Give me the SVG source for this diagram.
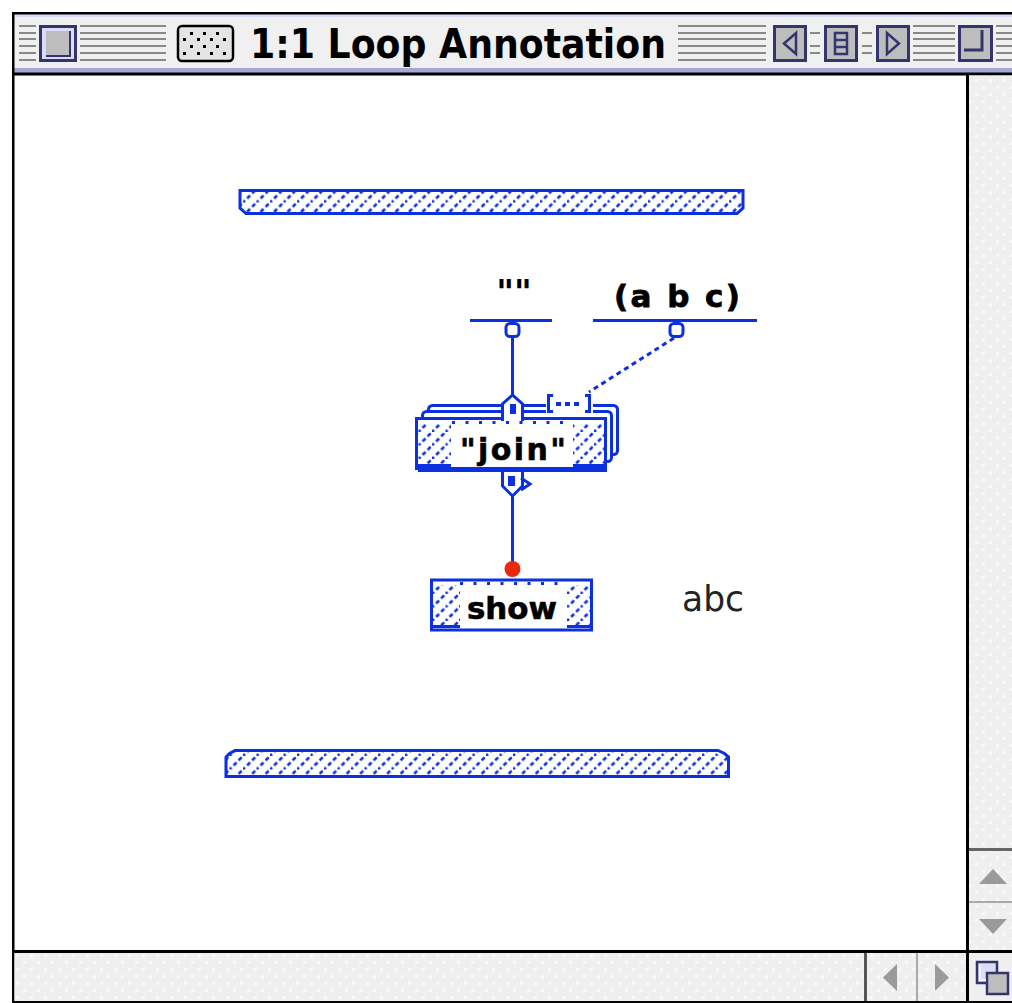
<svg xmlns="http://www.w3.org/2000/svg" width="1012" height="1003" viewBox="0 0 1012 1003">
<style>
.b{stroke:#0b30e0;fill:none;stroke-width:3}
.bf{fill:#0b30e0}
.bw{stroke:#0b30e0;fill:#fff;stroke-width:3}
.stripe{fill:#888}
.btn{fill:#bdbdbd;stroke:#34346e;stroke-width:3}
.lbl{font-family:"DejaVu Sans","Liberation Sans",sans-serif;font-weight:bold;fill:#000}
.gray{fill:#9a9a9a}
</style>
<defs>
<pattern id="h" width="13.5" height="13.5" patternUnits="userSpaceOnUse">
<path d="M-1,14.5 L14.5,-1" stroke="#0b30e0" stroke-width="2.6" stroke-dasharray="4.2 3"/>
</pattern>
<pattern id="dots" width="14" height="14" patternUnits="userSpaceOnUse">
<rect width="14" height="14" fill="#efefef"/>
<rect x="2" y="2" width="3" height="3" fill="#f8f8f8"/>
<rect x="9" y="9" width="3" height="3" fill="#f8f8f8"/>
</pattern>
</defs>
<rect width="1012" height="1003" fill="#fff"/>
<!-- window chrome -->
<g id="window">
<rect x="14" y="14" width="998" height="59" fill="#f0f0f0"/>
<rect x="14" y="14" width="998" height="3" fill="#dcdcf8"/>
<rect x="14" y="68" width="998" height="5" fill="#a8a8d8"/>
<rect x="14" y="72.5" width="998" height="3" fill="#000"/>
<rect x="12" y="12" width="1002" height="2.5" fill="#000"/>
<rect x="12" y="12" width="2.5" height="991" fill="#000"/>
<rect x="12" y="1001" width="1000" height="2" fill="#000"/>
<g class="stripe">
<path d="M19,25h17v2h-17zM19,32h17v2h-17zM19,38h17v2h-17zM19,45h17v2h-17zM19,52h17v2h-17zM19,59h17v2h-17z"/>
<path d="M80,25h86v2h-86zM80,32h86v2h-86zM80,38h86v2h-86zM80,45h86v2h-86zM80,52h86v2h-86zM80,59h86v2h-86z"/>
<path d="M678,25h88v2h-88zM678,32h88v2h-88zM678,38h88v2h-88zM678,45h88v2h-88zM678,52h88v2h-88zM678,59h88v2h-88z"/>
<path d="M810,32h10v2h-10zM810,45h10v2h-10zM810,52h10v2h-10zM862,32h10v2h-10zM862,45h10v2h-10zM862,52h10v2h-10z"/>
<path d="M913,25h42v2h-42zM913,32h42v2h-42zM913,38h42v2h-42zM913,45h42v2h-42zM913,52h42v2h-42zM913,59h42v2h-42z"/>
<path d="M996,25h16v2h-16zM996,32h16v2h-16zM996,38h16v2h-16zM996,45h16v2h-16zM996,52h16v2h-16zM996,59h16v2h-16z"/>
</g>
<rect x="40.5" y="26.5" width="35" height="34" fill="#dcdcf8" stroke="#34346e" stroke-width="3"/>
<rect x="46" y="31" width="24" height="24" fill="#bdbdbd"/>
<path d="M70,31V56H46" stroke="#34346e" stroke-width="2" fill="none"/>
<rect x="178" y="26" width="55" height="35" rx="4" fill="#e4e4e4" stroke="#000" stroke-width="2.5"/>
<g fill="#000">
<rect x="190" y="32" width="3" height="3"/><rect x="203" y="32" width="3" height="3"/><rect x="216" y="32" width="3" height="3"/>
<rect x="183" y="38" width="3" height="3"/><rect x="197" y="38" width="3" height="3"/><rect x="210" y="38" width="3" height="3"/><rect x="223" y="38" width="3" height="3"/>
<rect x="190" y="45" width="3" height="3"/><rect x="203" y="45" width="3" height="3"/><rect x="216" y="45" width="3" height="3"/>
<rect x="183" y="52" width="3" height="3"/><rect x="197" y="52" width="3" height="3"/><rect x="210" y="52" width="3" height="3"/><rect x="223" y="52" width="3" height="3"/>
</g>
<text x="250" y="58" font-family="'DejaVu Sans Condensed','DejaVu Sans',sans-serif" font-weight="bold" font-size="41" textLength="416" lengthAdjust="spacingAndGlyphs" fill="#000">1:1 Loop Annotation</text>
<rect x="774.5" y="26.5" width="31" height="34" class="btn"/>
<path d="M796,33V54L784,43.5Z" fill="none" stroke="#34346e" stroke-width="2.5"/>
<rect x="825.5" y="26.5" width="31" height="34" class="btn"/>
<path d="M835,33h12v21h-12zM835,40h12M835,47h12" fill="none" stroke="#34346e" stroke-width="2.5"/>
<rect x="877.5" y="26.5" width="31" height="34" class="btn"/>
<path d="M887,33V54L899,43.5Z" fill="none" stroke="#34346e" stroke-width="2.5"/>
<rect x="959.5" y="26.5" width="32" height="34" class="btn"/>
<path d="M982,30V50H964" fill="none" stroke="#34346e" stroke-width="3"/>
<rect x="969" y="75.5" width="43" height="875" fill="url(#dots)"/>
<rect x="966" y="75" width="3" height="928" fill="#000"/>
<rect x="969" y="848" width="43" height="3" fill="#666"/>
<polygon points="979,884 1007,884 993,869" class="gray"/>
<rect x="969" y="901" width="43" height="2" fill="#aaa"/>
<polygon points="979,919 1007,919 993,934" class="gray"/>
<rect x="14.5" y="953" width="951.5" height="48" fill="url(#dots)"/>
<rect x="14" y="950" width="998" height="3" fill="#000"/>
<rect x="864" y="953" width="3" height="48" fill="#555"/>
<polygon points="897,964 897,991 883,977.5" class="gray"/>
<rect x="916" y="953" width="2" height="48" fill="#aaa"/>
<polygon points="935,964 935,991 949,977.5" class="gray"/>
<rect x="969" y="953" width="43" height="48" fill="#efefef"/>
<rect x="977" y="962" width="20" height="21" fill="#dcdcf8" stroke="#34346e" stroke-width="2.5"/>
<rect x="987" y="973" width="21" height="21" fill="#bdbdbd" stroke="#34346e" stroke-width="2.5"/>
<path d="M980,965v15h6" stroke="#f4f4ff" stroke-width="2" fill="none"/>
</g>
<!-- connectors -->
<g id="connectors">
<line x1="512.5" y1="337" x2="512.5" y2="396" class="b"/>
<line x1="674" y1="338" x2="589" y2="392" stroke="#0b30e0" stroke-width="3" stroke-dasharray="5 4"/>
<line x1="512.5" y1="496" x2="512.5" y2="564" class="b"/>
</g>
<g id="input-bar">
<path d="M240,190.5H743V208L737,213.5H246L240,208Z" fill="url(#h)" stroke="#0b30e0" stroke-width="3"/>
</g>
<g id="root-empty">
<text x="514" y="304" text-anchor="middle" class="lbl" font-size="34">""</text>
<line x1="470" y1="320.5" x2="552" y2="320.5" class="b"/>
<rect x="506" y="323.5" width="13" height="13" rx="4" class="bw"/>
</g>
<g id="root-abc">
<text x="677" y="307" text-anchor="middle" class="lbl" font-size="31" textLength="126" lengthAdjust="spacing" stroke="#000" stroke-width="0.8">(a b c)</text>
<line x1="593" y1="320.5" x2="757" y2="320.5" class="b"/>
<rect x="670" y="323.5" width="13" height="13" rx="4" class="bw"/>
</g>
<g id="join">
<rect x="428.5" y="405.5" width="189" height="49" rx="4" class="bw"/>
<rect x="422.5" y="411.5" width="189" height="50" rx="4" class="bw"/>
<rect x="416.5" y="418.5" width="189" height="50" fill="#fff" stroke="#0b30e0" stroke-width="3"/>
<rect x="418" y="424" width="33" height="43" fill="url(#h)"/>
<rect x="573" y="424" width="31" height="43" fill="url(#h)"/>
<line x1="418" y1="465.5" x2="451" y2="465.5" class="b"/>
<line x1="573" y1="465.5" x2="604" y2="465.5" class="b"/>
<line x1="452" y1="422.5" x2="572" y2="422.5" stroke="#0b30e0" stroke-width="3" stroke-dasharray="3 10.5"/>
<line x1="418" y1="470.5" x2="607" y2="470.5" class="b"/>
<text x="460" y="460" class="lbl" font-size="30" textLength="106" lengthAdjust="spacing" stroke="#000" stroke-width="0.6">"join"</text>
<path d="M502.5,421V404L512.5,395L522.5,404V421" class="bw"/>
<rect x="510" y="404" width="6" height="10" class="bf"/>
<rect x="546" y="394" width="47" height="19" fill="#fff"/>
<path d="M553,395.5h-4.5v16h4.5M585,395.5h4.5v16h-4.5" class="b"/>
<rect x="556" y="402" width="5" height="4" class="bf"/>
<rect x="565" y="402" width="5" height="4" class="bf"/>
<rect x="574" y="402" width="5" height="4" class="bf"/>
<path d="M502.5,472V486L512.5,496L522.5,486V472" class="bw"/>
<path d="M521,478L530,484L521,490" class="b"/>
<rect x="508" y="476" width="7" height="10" class="bf"/>
</g>
<g id="show">
<circle cx="512.5" cy="569" r="8" fill="#e82a0a"/>
<rect x="431.5" y="580" width="160" height="50" fill="#fff" stroke="#0b30e0" stroke-width="3"/>
<rect x="433" y="585" width="27" height="42" fill="url(#h)"/>
<rect x="567" y="585" width="23" height="42" fill="url(#h)"/>
<line x1="433" y1="626.5" x2="460" y2="626.5" class="b"/>
<line x1="567" y1="626.5" x2="590" y2="626.5" class="b"/>
<line x1="460" y1="583.5" x2="566" y2="583.5" stroke="#0b30e0" stroke-width="3" stroke-dasharray="3 10.5"/>
<text x="467" y="619" class="lbl" font-size="30" textLength="90" lengthAdjust="spacingAndGlyphs" stroke="#000" stroke-width="0.6">show</text>
</g>
<text id="result" x="682" y="611" font-family="'DejaVu Sans','Liberation Sans',sans-serif" font-size="36" textLength="62" lengthAdjust="spacingAndGlyphs" fill="#222">abc</text>
<g id="output-bar">
<path d="M226,776.5V757L229.5,753.5L235,750.5H718L724.5,753.5L728.5,757V776.5Z" fill="url(#h)" stroke="#0b30e0" stroke-width="3"/>
</g>
</svg>
